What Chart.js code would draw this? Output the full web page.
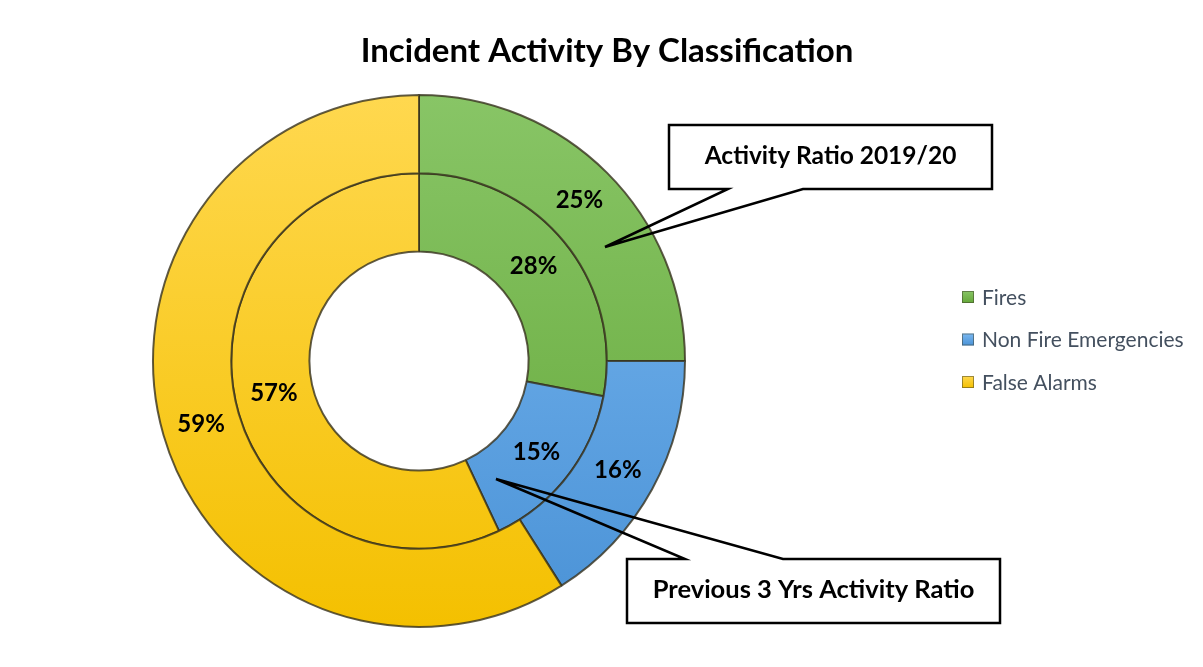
<!DOCTYPE html>
<html>
<head>
<meta charset="utf-8">
<script src="https://cdn.jsdelivr.net/npm/chart.js@4/dist/chart.umd.min.js"></script>
<style>
  html, body { margin: 0; padding: 0; background: #fff; }
  #wrap { width: 1203px; height: 667px; position: relative; }
</style>
</head>
<body>
<div id="wrap"><canvas id="incidentChart" width="1203" height="667"></canvas></div>
<script>
// Chart data
const chartTitle = 'Incident Activity By Classification';
const categories = ['Fires', 'Non Fire Emergencies', 'False Alarms'];
const ratio201920 = [25, 16, 59];   // outer ring
const ratioPrev3Yrs = [28, 15, 57]; // inner ring
const seriesNames = ['Activity Ratio 2019/20', 'Previous 3 Yrs Activity Ratio'];

// Slice colours (light top -> darker bottom)
const topColors = ['#88c566', '#7ab8f1', '#ffd84f'];
const bottomColors = ['#64a738', '#4a92d6', '#f4c000'];

const FONT = "Lato, 'Open Sans', sans-serif";

function sliceGradient(context) {
    const chart = context.chart;
    const area = chart.chartArea;
    const i = context.dataIndex;
    if (!area) return topColors[i];
    const g = chart.ctx.createLinearGradient(0, area.top, 0, area.bottom);
    g.addColorStop(0, topColors[i]);
    g.addColorStop(1, bottomColors[i]);
    return g;
}

// Draws a white box with a pointer going to a spot on the ring
function drawCallout(ctx, box, notch, tip, text, fontSize) {
    ctx.save();
    ctx.fillStyle = '#ffffff';
    ctx.fillRect(box.x, box.y, box.w, box.h);
    ctx.strokeStyle = '#000000';
    ctx.lineWidth = 2.5;
    ctx.lineJoin = 'miter';
    ctx.beginPath();
    const ny = notch.y;
    if (ny === box.y + box.h) {
        ctx.moveTo(notch.x1, ny);
        ctx.lineTo(box.x, ny);
        ctx.lineTo(box.x, box.y);
        ctx.lineTo(box.x + box.w, box.y);
        ctx.lineTo(box.x + box.w, ny);
        ctx.lineTo(notch.x2, ny);
    } else {
        ctx.moveTo(notch.x2, ny);
        ctx.lineTo(box.x + box.w, ny);
        ctx.lineTo(box.x + box.w, box.y + box.h);
        ctx.lineTo(box.x, box.y + box.h);
        ctx.lineTo(box.x, ny);
        ctx.lineTo(notch.x1, ny);
    }
    ctx.lineTo(tip.x, tip.y);
    ctx.closePath();
    ctx.stroke();
    ctx.fillStyle = '#000000';
    ctx.font = 'bold ' + fontSize + 'px ' + FONT;
    ctx.textAlign = 'center';
    ctx.textBaseline = 'middle';
    ctx.fillText(text, box.x + box.w / 2, box.y + box.h / 2 - 1);
    ctx.restore();
}

const overlayPlugin = {
    id: 'overlay',
    afterDatasetsDraw(chart) {
        const ctx = chart.ctx;
        ctx.save();

        // percentage labels on each slice
        ctx.fillStyle = '#000000';
        ctx.font = 'bold 24px ' + FONT;
        ctx.textAlign = 'center';
        ctx.textBaseline = 'middle';
        chart.data.datasets.forEach((ds, di) => {
            const meta = chart.getDatasetMeta(di);
            meta.data.forEach((arc, i) => {
                const p = arc.tooltipPosition();
                ctx.fillText(ds.data[i] + '%', p.x, p.y);
            });
        });

        // title
        ctx.font = 'bold 33px ' + FONT;
        ctx.fillText(chartTitle, 607, 51);

        // legend
        ctx.textAlign = 'left';
        ctx.font = '21px ' + FONT;
        categories.forEach((name, i) => {
            const y = 297 + i * 42.5;
            const g = ctx.createLinearGradient(0, y - 6, 0, y + 6);
            g.addColorStop(0, topColors[i]);
            g.addColorStop(1, bottomColors[i]);
            ctx.fillStyle = g;
            ctx.fillRect(962, y - 6, 12, 12);
            ctx.strokeStyle = 'rgba(60, 60, 40, 0.5)';
            ctx.lineWidth = 1;
            ctx.strokeRect(962.5, y - 5.5, 11, 11);
            ctx.fillStyle = '#44505f';
            ctx.fillText(name, 982, y + 1);
        });
        ctx.restore();

        // callouts
        drawCallout(ctx, {x: 669, y: 125, w: 323, h: 64},
            {x1: 728, x2: 803, y: 189}, {x: 605, y: 247}, seriesNames[0], 24.5);
        drawCallout(ctx, {x: 627, y: 559, w: 373, h: 64},
            {x1: 685, x2: 783, y: 559}, {x: 496, y: 479}, seriesNames[1], 25.5);
    }
};

const ctx = document.getElementById('incidentChart');
const incidentChart = new Chart(ctx, {
    type: 'doughnut',
    data: {
        labels: categories,
        datasets: [
            {
                label: seriesNames[0],
                data: ratio201920,
                backgroundColor: sliceGradient,
                borderColor: 'rgba(55, 50, 30, 0.8)',
                borderWidth: 2
            },
            {
                label: seriesNames[1],
                data: ratioPrev3Yrs,
                backgroundColor: sliceGradient,
                borderColor: 'rgba(55, 50, 30, 0.8)',
                borderWidth: 2
            }
        ]
    },
    options: {
        responsive: false,
        animation: false,
        cutout: '41.2%',
        layout: {
            padding: {left: 152, right: 517, top: 94, bottom: 39}
        },
        plugins: {
            legend: { display: false },
            title: { display: false },
            tooltip: { enabled: false }
        }
    },
    plugins: [overlayPlugin]
});
</script>
</body>
</html>
